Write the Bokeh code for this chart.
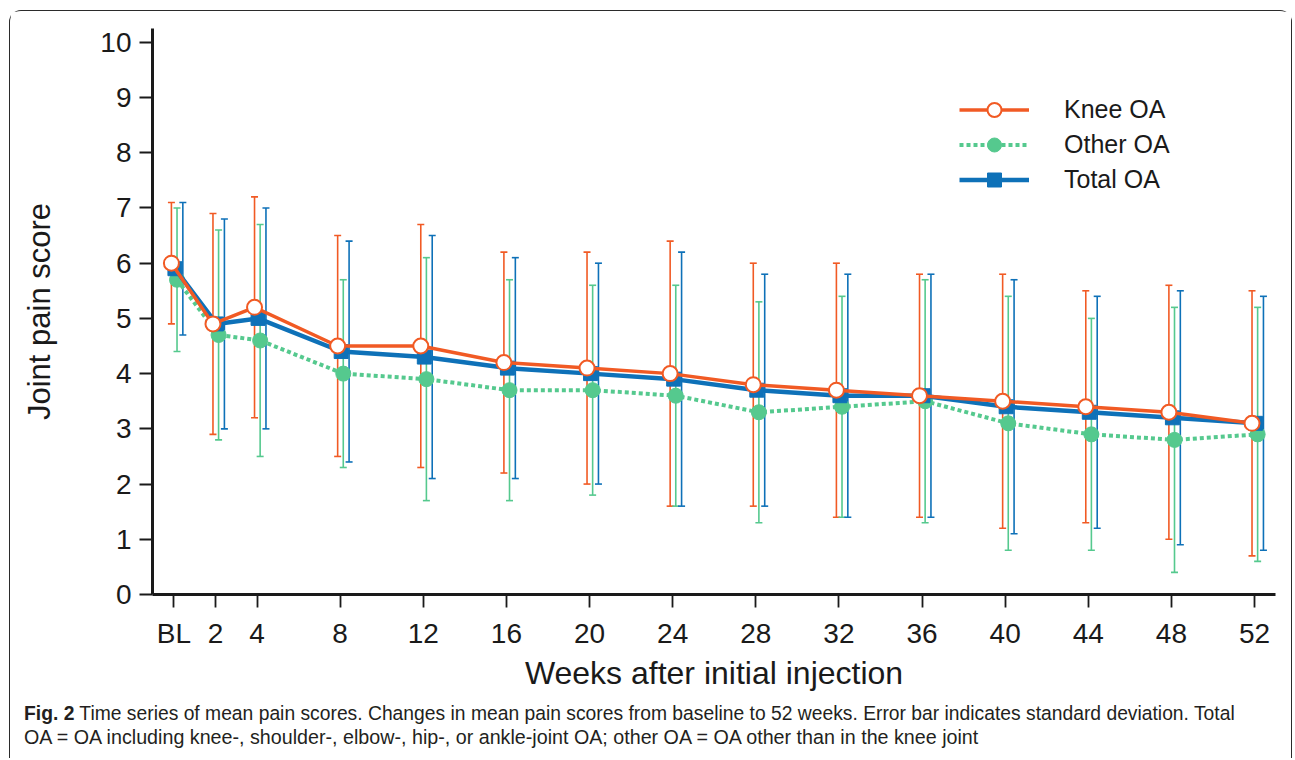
from bokeh.plotting import figure
from bokeh.layouts import column
from bokeh.models import (ColumnDataSource, Whisker, TeeHead, FixedTicker, Legend,
                          LegendItem, Range1d, Div)
from bokeh.embed import file_html
from bokeh.resources import INLINE

# ---------------- data ----------------
weeks = [0, 2, 4, 8, 12, 16, 20, 24, 28, 32, 36, 40, 44, 48, 52]
tick_labels = ["BL", "2", "4", "8", "12", "16", "20", "24", "28", "32", "36", "40", "44", "48", "52"]

knee_mean = [6.0, 4.9, 5.2, 4.5, 4.5, 4.2, 4.1, 4.0, 3.8, 3.7, 3.6, 3.5, 3.4, 3.3, 3.1]
knee_upper = [7.1, 6.9, 7.2, 6.5, 6.7, 6.2, 6.2, 6.4, 6.0, 6.0, 5.8, 5.8, 5.5, 5.6, 5.5]
knee_lower = [4.9, 2.9, 3.2, 2.5, 2.3, 2.2, 2.0, 1.6, 1.6, 1.4, 1.4, 1.2, 1.3, 1.0, 0.7]

other_mean = [5.7, 4.7, 4.6, 4.0, 3.9, 3.7, 3.7, 3.6, 3.3, 3.4, 3.5, 3.1, 2.9, 2.8, 2.9]
other_upper = [7.0, 6.6, 6.7, 5.7, 6.1, 5.7, 5.6, 5.6, 5.3, 5.4, 5.7, 5.4, 5.0, 5.2, 5.2]
other_lower = [4.4, 2.8, 2.5, 2.3, 1.7, 1.7, 1.8, 1.6, 1.3, 1.4, 1.3, 0.8, 0.8, 0.4, 0.6]

total_mean = [5.9, 4.9, 5.0, 4.4, 4.3, 4.1, 4.0, 3.9, 3.7, 3.6, 3.6, 3.4, 3.3, 3.2, 3.1]
total_upper = [7.1, 6.8, 7.0, 6.4, 6.5, 6.1, 6.0, 6.2, 5.8, 5.8, 5.8, 5.7, 5.4, 5.5, 5.4]
total_lower = [4.7, 3.0, 3.0, 2.4, 2.1, 2.1, 2.0, 1.6, 1.6, 1.4, 1.4, 1.1, 1.2, 0.9, 0.8]

series_names = ["Knee OA", "Other OA", "Total OA"]
caption_bold = "Fig. 2"
caption_line1 = ("Time series of mean pain scores. Changes in mean pain scores from baseline "
                 "to 52 weeks. Error bar indicates standard deviation. Total")
caption_line2 = ("OA = OA including knee-, shoulder-, elbow-, hip-, or ankle-joint OA; "
                 "other OA = OA other than in the knee joint")

# ---------------- style ----------------
ORANGE = "#F15A24"
GREEN = "#55C98E"
BLUE = "#0E71B8"
TICK_FONT = "Liberation Sans"
CAP_FONT = "Liberation Sans"
W = 1281

# small horizontal offsets (in weeks) so the three groups don't overlap
knee_dx, other_dx, total_dx, total_bar_dx = -0.12, 0.15, 0.05, 0.43

src_knee = ColumnDataSource(dict(x=[w + knee_dx for w in weeks], y=knee_mean,
                                 up=knee_upper, lo=knee_lower))
src_other = ColumnDataSource(dict(x=[w + other_dx for w in weeks], y=other_mean,
                                  up=other_upper, lo=other_lower))
src_total = ColumnDataSource(dict(x=[w + total_dx for w in weeks], y=total_mean))
src_total_bar = ColumnDataSource(dict(x=[w + total_bar_dx for w in weeks],
                                      up=total_upper, lo=total_lower))

p = figure(width=W, height=690, output_backend="svg", toolbar_location=None,
           x_range=Range1d(-1.03, 53.01), y_range=Range1d(0, 10.25),
           min_border_left=142, min_border_right=16, min_border_top=17, min_border_bottom=107)
p.outline_line_color = None
p.grid.visible = False

# error bars
for src, col in [(src_knee, ORANGE), (src_other, GREEN), (src_total_bar, BLUE)]:
    w = Whisker(source=src, base="x", upper="up", lower="lo", dimension="height",
                line_color=col, line_width=1.6, level="underlay",
                upper_head=TeeHead(size=7, line_color=col, line_width=1.6),
                lower_head=TeeHead(size=7, line_color=col, line_width=1.6))
    p.add_layout(w)

# series lines + markers (other below, total, knee on top)
other_line = p.line("x", "y", source=src_other, line_color=GREEN, line_width=4, line_dash="4 3")
other_pts = p.scatter("x", "y", source=src_other, marker="circle", size=15,
                      fill_color=GREEN, line_color=GREEN)
total_line = p.line("x", "y", source=src_total, line_color=BLUE, line_width=4.5)
total_pts = p.scatter("x", "y", source=src_total, marker="square", size=14,
                      fill_color=BLUE, line_color=BLUE)
knee_line = p.line("x", "y", source=src_knee, line_color=ORANGE, line_width=3.5)
knee_pts = p.scatter("x", "y", source=src_knee, marker="circle", size=15,
                     fill_color="white", line_color=ORANGE, line_width=2)

# axes
xa = p.xaxis[0]
xa.ticker = FixedTicker(ticks=weeks)
xa.major_label_overrides = {w: lab for w, lab in zip(weeks, tick_labels)}
ya = p.yaxis[0]
ya.ticker = FixedTicker(ticks=list(range(0, 11)))
for ax in (xa, ya):
    ax.axis_line_width = 3
    ax.axis_line_color = "#1a1a1a"
    ax.major_tick_line_color = "#1a1a1a"
    ax.major_tick_line_width = 1.8
    ax.major_tick_out = 13
    ax.major_tick_in = 0
    ax.minor_tick_line_color = None
    ax.major_label_text_font = TICK_FONT
    ax.major_label_text_font_size = "28px"
    ax.major_label_text_color = "#1a1a1a"
    ax.axis_label_text_font = TICK_FONT
    ax.axis_label_text_font_style = "normal"
    ax.axis_label_text_color = "#1a1a1a"
xa.axis_label = "Weeks after initial injection"
ya.axis_label = "Joint pain score"
xa.axis_label_text_font_size = "32px"
ya.axis_label_text_font_size = "31px"
xa.major_label_standoff = 10
ya.major_label_standoff = 8
xa.axis_label_standoff = 3
ya.axis_label_standoff = 40

# legend
legend = Legend(items=[
    LegendItem(label=series_names[0], renderers=[knee_line, knee_pts]),
    LegendItem(label=series_names[1], renderers=[other_line, other_pts]),
    LegendItem(label=series_names[2], renderers=[total_line, total_pts]),
], location=(807, 397), orientation="vertical")
legend.glyph_width = 70
legend.glyph_height = 35
legend.label_height = 35
legend.label_standoff = 35
legend.spacing = 0
legend.padding = 0
legend.margin = 0
legend.border_line_color = None
legend.background_fill_alpha = 0
legend.label_text_font = TICK_FONT
legend.label_text_font_size = "25px"
legend.label_text_color = "#1a1a1a"
p.add_layout(legend)

# caption: each piece of text in its own element
cap_html = (
    '<div style="height:22.5px;line-height:22.5px;white-space:nowrap;font-size:19.3px;">'
    f'<span style="font-weight:bold;">{caption_bold}</span>'
    f'<span style="margin-left:5px;">{caption_line1}</span></div>'
    '<div style="height:22.5px;line-height:22.5px;white-space:nowrap;font-size:19.7px;">'
    f'<span>{caption_line2}</span></div>'
)
caption = Div(text=cap_html, width=W, height=57,
              styles={"font-family": CAP_FONT, "color": "#231f20",
                      "padding-left": "14px", "padding-top": "2px", "margin": "0"})

page = column(p, caption, spacing=0,
              styles={"border": "1.5px solid #2b2b2b", "border-bottom": "none",
                      "border-radius": "12px 12px 0 0",
                      "margin-left": "9px", "margin-top": "10px"})

open("out.html", "w").write(file_html(page, INLINE))
